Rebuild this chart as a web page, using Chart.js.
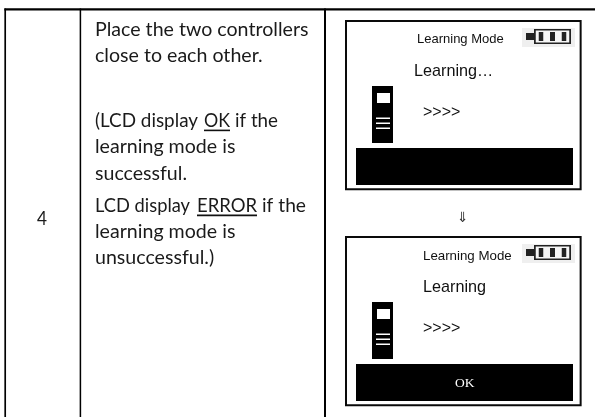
<!DOCTYPE html>
<html>
<head>
<meta charset="utf-8">
<style>html,body{margin:0;padding:0;background:#fff}#w{width:595px;height:417px;position:relative}</style>
<script src="https://cdn.jsdelivr.net/npm/chart.js@4"></script>
</head>
<body>
<div id="w"><canvas id="c" width="595" height="417"></canvas></div>
<script>
// Table rules and screen parts as [x0, x1, y0, y1] in the picture's data space
const tableRules = [
  [4.2, 6.2, 8.5, 417], [79.4, 81.4, 8.5, 417], [324, 326, 8.5, 417], [4.2, 595, 8.2, 10.4]
];
const screenTops = [20, 236];
const titleUnderlines = [[204, 230, 129.6, 131.2], [197, 257, 214.6, 216.2]];
const blackParts = [[372, 393, 66, 123], [356, 573, 128, 165]];
const whiteParts = [[377, 390, 73, 83], [376, 390, 97.5, 99], [376, 390, 102.5, 104], [376, 390, 107.5, 109]];
const batteryBg = [522, 575, 8, 27];
const batteryBlack = [[526, 536, 13, 20], [534, 571, 9, 24]];
const batteryInner = [535.5, 569.5, 10.5, 22.5];
const batteryBars = [[538.5, 543.5, 12, 21], [550, 555, 12, 21], [561.5, 566.5, 12, 21]];
const frameOuter = [345, 581.8, 0, 170.3];
const frameInner = [347, 579.8, 2, 168.3];
// Text: [string, x, baseline y, widest run]
const bodyLines = [
  ["Place the two controllers", 95, 36, 215], ["close to each other.", 95, 62, 170],
  ["(LCD display", 95, 127, 103], ["OK", 204, 127, 26], ["if the", 235, 127, 43],
  ["learning mode is", 95, 153, 142], ["successful.", 95, 180, 92],
  ["LCD display", 95, 212, 95], ["ERROR", 197, 212, 60], ["if the", 262, 212, 44],
  ["learning mode is", 95, 238, 142], ["unsuccessful.)", 95, 264, 121],
  ["4", 37, 225, 10]
];
const screenSmall = [["Learning Mode", 417, 43], ["Learning Mode", 423, 260]];
const screenLarge = [["Learning…", 414, 75.5], ["Learning", 423, 292]];
const screenArrows = [[">>>>", 423, 117], [">>>>", 423, 333]];
const okLabel = ["OK", 455, 387];
const downArrow = ["⇓", 457, 222];

const rect = (r, color, dy = 0) => ({
  type: 'line',
  data: [{x: r[0], y: r[2] + dy}, {x: r[1], y: r[2] + dy}],
  fill: {value: r[3] + dy},
  backgroundColor: color,
  borderWidth: 0,
  pointRadius: 0,
  tension: 0
});
const layers = [];
tableRules.forEach(r => layers.push(rect(r, '#000')));
titleUnderlines.forEach(r => layers.push(rect(r, '#111')));
screenTops.forEach(t => {
  layers.push(rect(frameOuter, '#0a0a0a', t));
  layers.push(rect(frameInner, '#fff', t));
  blackParts.forEach(r => layers.push(rect(r, '#000', t)));
  whiteParts.forEach(r => layers.push(rect(r, '#fff', t)));
  layers.push(rect(batteryBg, '#efefef', t));
  batteryBlack.forEach(r => layers.push(rect(r, '#222', t)));
  layers.push(rect(batteryInner, '#f6f6f6', t));
  batteryBars.forEach(r => layers.push(rect(r, '#222', t)));
});

const textPlugin = {
  id: 'text',
  afterDatasetsDraw(chart) {
    const {ctx, scales: {x, y}} = chart;
    const put = (t, font, color) => {
      ctx.font = font; ctx.fillStyle = color;
      ctx.textAlign = 'left'; ctx.textBaseline = 'alphabetic';
      const px = x.getPixelForValue(t[1]), py = y.getPixelForValue(t[2]);
      if (t[3]) ctx.fillText(t[0], px, py, t[3]); else ctx.fillText(t[0], px, py);
    };
    ctx.save();
    bodyLines.forEach(t => put(t, '19.6px Lato', '#1a1a1a'));
    put(screenSmall[0], '13px "Liberation Sans"', '#111');
    put(screenSmall[1], '13.3px "Liberation Sans"', '#111');
    screenLarge.forEach(t => put(t, '16.2px "Liberation Sans"', '#111'));
    screenArrows.forEach(t => put(t, '16px "Liberation Sans"', '#111'));
    put(okLabel, '13.5px "Liberation Serif"', '#fff');
    put(downArrow, '14px "DejaVu Sans"', '#333');
    ctx.restore();
  }
};

new Chart(document.getElementById('c'), {
  type: 'line',
  data: {datasets: layers.reverse()},
  plugins: [textPlugin],
  options: {
    responsive: false,
    animation: false,
    layout: {padding: 0},
    plugins: {legend: {display: false}, title: {display: false}, tooltip: {enabled: false}},
    scales: {
      x: {type: 'linear', min: 0, max: 595, display: false},
      y: {type: 'linear', min: 0, max: 417, reverse: true, display: false}
    }
  }
});
</script>
</body>
</html>
